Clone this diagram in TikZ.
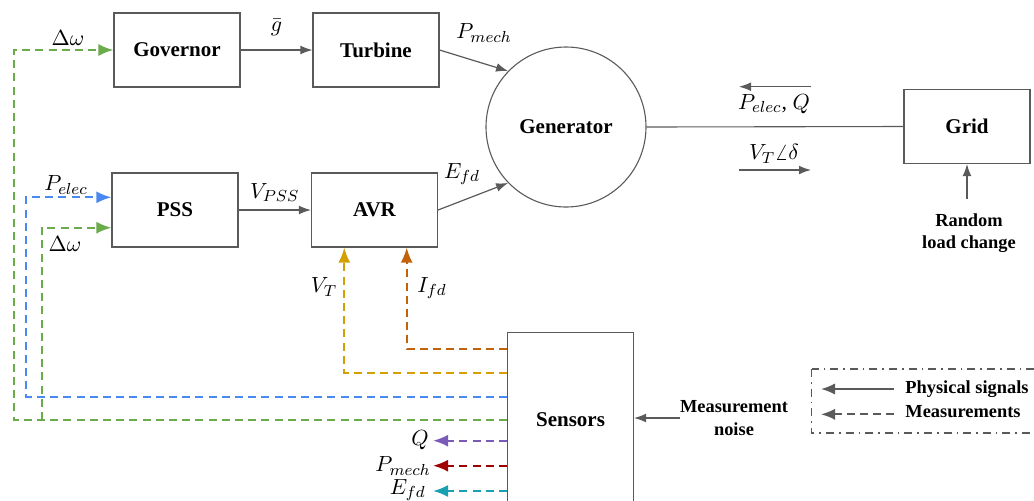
\documentclass[tikz,border=0pt]{standalone}
\usepackage{fontspec}
\setmainfont{Liberation Serif}
\usetikzlibrary{arrows.meta}
\definecolor{lineg}{HTML}{5A5A5A}
\definecolor{cgreen}{HTML}{6AAB4A}
\definecolor{cblue}{HTML}{4A8AF0}
\definecolor{cyel}{HTML}{D4A000}
\definecolor{corg}{HTML}{C4620A}
\definecolor{cpur}{HTML}{7A5CB8}
\definecolor{cred}{HTML}{A00000}
\definecolor{cteal}{HTML}{18A0B0}
\tikzset{
  blk/.style={draw=lineg, line width=0.55pt, minimum width=63pt, minimum height=37pt, inner sep=0pt, font=\bfseries\fontsize{10.5}{12}\selectfont},
  lbl/.style={inner sep=0pt, font=\fontsize{10.95}{13}\selectfont},
  btxt/.style={inner sep=0pt, font=\bfseries\fontsize{9.2}{11.2}\selectfont, align=center},
  phys/.style={draw=lineg, line width=0.6pt, -{Latex[length=6pt,width=4.4pt]}},
  meas/.style={line width=1.05pt, dash pattern=on 4pt off 2.6pt, -{Latex[length=7.5pt,width=6pt]}},
}
\begin{document}
\begin{tikzpicture}[x=0.5pt,y=-0.5pt]
\useasboundingbox (0,0) rectangle (1034,500);
\begin{scope}
\clip (0,0) rectangle (1034,500);
% blocks
\node[blk] (Gov) at (177,50) {Governor};
\node[blk] (Tur) at (376,50) {Turbine};
\node[blk] (PSS) at (175,210) {PSS};
\node[blk] (AVR) at (374.5,210) {AVR};
\node[blk] (Grid) at (967,126.5) {Grid};
\node[blk, minimum height=87.5pt] (Sen) at (570.5,420) {Sensors};
\node[draw=lineg, line width=0.55pt, circle, minimum size=80pt, inner sep=0pt, font=\bfseries\fontsize{10.5}{12}\selectfont] (Gen) at (566,127) {Generator};

% physical connections
\draw[phys] (Gov.east) -- node[lbl, above=7pt] {$\bar g$} (Tur.west);
\draw[phys] (PSS.east) -- node[lbl, above=4pt] {$V_{PSS}$} (AVR.west);
\draw[phys] (Tur.east) -- (Gen.136);
\draw[phys] (AVR.east) -- (Gen.224);
\draw[draw=lineg, line width=0.55pt] (Gen.east) -- (Grid.west);
\node[lbl] (lPm) at (484,33) {$P_{mech}$};
\node[lbl] (lEf) at (462,174) {$E_{fd}$};

\coordinate (a1s) at (811,86.7); \coordinate (a1e) at (739,86.7);
\draw[phys] (a1s) -- (a1e);
\node[lbl] (lPQ) at (774,104) {$P_{elec}$, $Q$};
\coordinate (a2s) at (739,170); \coordinate (a2e) at (811,170);
\draw[phys] (a2s) -- (a2e);
\node[lbl] (lVd) at (774,154) {$V_T\angle\delta$};

\node[btxt] (rlc) at (969,233) {Random\\load change};
\coordinate (rlct) at ([yshift=-17.5pt]Grid.south);
\draw[phys] (rlct) -- (Grid.south);

\node[btxt] (noise) at (734,418) {Measurement\\noise};
\draw[phys] (noise.west) -- (noise.west -| Sen.east);

% measurement feedback
\coordinate (g1) at (14,420); \coordinate (g2) at (14,50);
\draw[meas, cgreen] (Sen.west) -- (g1) -- (g2) -- (Gov.west);
\node[lbl] (ldw1) at (68,38) {$\Delta\omega$};

\coordinate (b0) at (Sen.west |- 0,396.7);
\coordinate (b1) at (26,396.7); \coordinate (b2) at (26,197.3);
\draw[meas, cblue] (b0) -- (b1) -- (b2) -- (b2 -| PSS.west);
\node[lbl] (lPe) at (66,185) {$P_{elec}$};

\coordinate (g3) at (41.7,420); \coordinate (g4) at (41.7,227.7);
\draw[meas, cgreen] (g3) -- (g4) -- (g4 -| PSS.west);
\node[lbl] (ldw2) at (65,244) {$\Delta\omega$};

\coordinate (y0) at (Sen.west |- 0,372.7);
\coordinate (y1) at (344.3,372.7);
\draw[meas, cyel] (y0) -- (y1) -- (y1 |- AVR.south);
\node[lbl] (lVT) at (324,287) {$V_T$};

\coordinate (o0) at (Sen.west |- 0,348.7);
\coordinate (o1) at (406.7,348.7);
\draw[meas, corg] (o0) -- (o1) -- (o1 |- AVR.south);
\node[lbl] (lIf) at (432,288) {$I_{fd}$};

\coordinate (q0) at (Sen.west |- 0,440.7); \coordinate (q1) at (433,440.7);
\draw[meas, cpur] (q0) -- (q1);
\node[lbl, anchor=east] (lQ) at (429,440) {$Q$};
\coordinate (p0) at (Sen.west |- 0,465.7); \coordinate (p1) at (433,465.7);
\draw[meas, cred] (p0) -- (p1);
\node[lbl, anchor=east] (lPm2) at (431,466) {$P_{mech}$};
\coordinate (e0) at (Sen.west |- 0,491); \coordinate (e1) at (433,491);
\draw[meas, cteal] (e0) -- (e1);
\node[lbl, anchor=east] (lEf2) at (426,490) {$E_{fd}$};

% legend
\draw[draw=lineg, line width=0.85pt, dash pattern=on 4pt off 2.5pt on 0.8pt off 2.5pt] (811.5,369) rectangle (1045,433);
\coordinate (la1) at (893.7,389); \coordinate (la2) at (821,389);
\draw[draw=lineg, line width=0.85pt, -{Latex[length=7pt,width=5.6pt]}] (la1) -- (la2);
\coordinate (lb1) at (893.7,414.3); \coordinate (lb2) at (821,414.3);
\draw[draw=lineg, line width=0.85pt, dash pattern=on 4pt off 2.5pt, -{Latex[length=7pt,width=5.6pt]}] (lb1) -- (lb2);
\node[btxt, anchor=west] (lphys) at (905,389) {Physical signals};
\node[btxt, anchor=west] (lmeas) at (905,412) {Measurements};
\end{scope}
\end{tikzpicture}
\end{document}
